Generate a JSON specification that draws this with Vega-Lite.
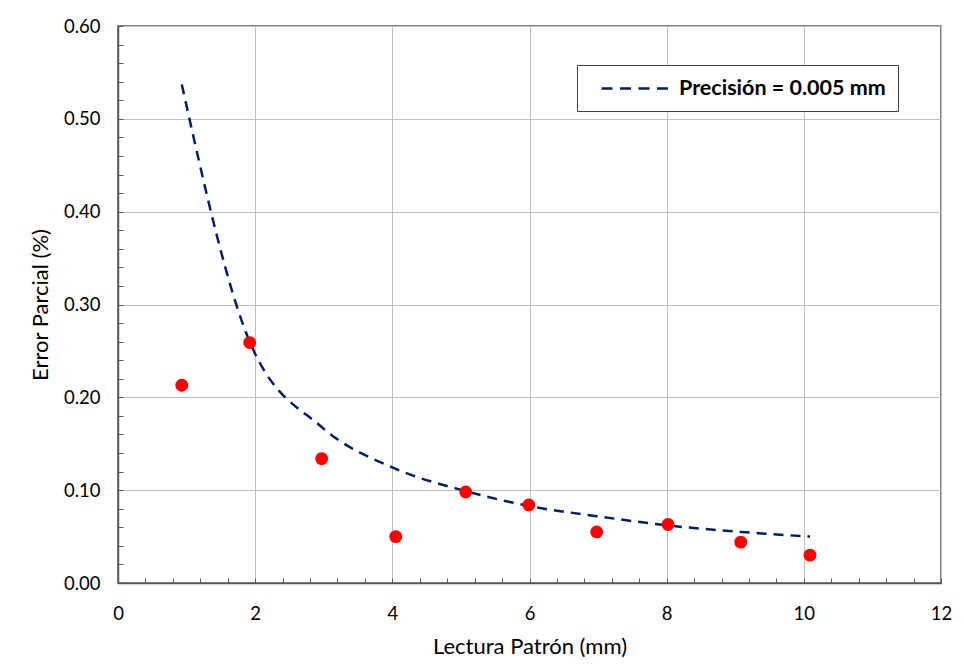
{
  "$schema": "https://vega.github.io/schema/vega-lite/v6.json",
  "width": 823,
  "height": 557,
  "autosize": "none",
  "padding": {"left": 118, "top": 26, "right": 23, "bottom": 86},
  "background": "white",
  "config": {
    "font": "Lato",
    "view": {"stroke": "#595959", "strokeWidth": 1.5},
    "axis": {
      "domainColor": "#595959",
      "domainWidth": 1.5,
      "gridColor": "#BFBFBF",
      "gridWidth": 1,
      "tickColor": "#595959",
      "tickWidth": 1,
      "labelFont": "Lato",
      "labelFontSize": 18.5,
      "labelFontWeight": "normal",
      "labelColor": "#000000",
      "titleFont": "Lato",
      "titleFontSize": 22,
      "titleFontWeight": "normal",
      "titleColor": "#000000"
    }
  },
  "datasets": {
    "medidas": [
      {"lectura": 0.93, "error": 0.213},
      {"lectura": 1.92, "error": 0.259},
      {"lectura": 2.97, "error": 0.134},
      {"lectura": 4.05, "error": 0.050},
      {"lectura": 5.07, "error": 0.098},
      {"lectura": 5.99, "error": 0.084},
      {"lectura": 6.98, "error": 0.055},
      {"lectura": 8.02, "error": 0.063},
      {"lectura": 9.08, "error": 0.044},
      {"lectura": 10.09, "error": 0.030}
    ],
    "precision": [
      {"lectura": 0.93, "error": 0.537, "serie": "Precisión = 0.005 mm"},
      {"lectura": 1.92, "error": 0.260, "serie": "Precisión = 0.005 mm"},
      {"lectura": 2.97, "error": 0.168, "serie": "Precisión = 0.005 mm"},
      {"lectura": 4.05, "error": 0.123, "serie": "Precisión = 0.005 mm"},
      {"lectura": 5.07, "error": 0.099, "serie": "Precisión = 0.005 mm"},
      {"lectura": 5.99, "error": 0.083, "serie": "Precisión = 0.005 mm"},
      {"lectura": 6.98, "error": 0.072, "serie": "Precisión = 0.005 mm"},
      {"lectura": 8.02, "error": 0.062, "serie": "Precisión = 0.005 mm"},
      {"lectura": 9.08, "error": 0.055, "serie": "Precisión = 0.005 mm"},
      {"lectura": 10.09, "error": 0.050, "serie": "Precisión = 0.005 mm"}
    ]
  },
  "encoding": {
    "x": {
      "field": "lectura",
      "type": "quantitative",
      "scale": {"domain": [0, 12], "nice": false},
      "axis": {
        "title": "Lectura Patrón (mm)",
        "values": [0, 0.4, 0.8, 1.2, 1.6, 2, 2.4, 2.8, 3.2, 3.6, 4, 4.4, 4.8, 5.2, 5.6, 6, 6.4, 6.8, 7.2, 7.6, 8, 8.4, 8.8, 9.2, 9.6, 10, 10.4, 10.8, 11.2, 11.6, 12],
        "labelExpr": "abs(datum.value/2 - round(datum.value/2)) < 0.001 ? format(datum.value, 'd') : ''",
        "gridOpacity": {"condition": {"test": "abs(datum.value/2 - round(datum.value/2)) < 0.001", "value": 1}, "value": 0},
        "tickSize": -5,
        "labelPadding": 26,
        "labelFlush": false,
        "labelOverlap": false,
        "titlePadding": 14
      }
    },
    "y": {
      "field": "error",
      "type": "quantitative",
      "scale": {"domain": [0, 0.6], "nice": false},
      "axis": {
        "title": "Error Parcial (%)",
        "values": [0, 0.02, 0.04, 0.06, 0.08, 0.1, 0.12, 0.14, 0.16, 0.18, 0.2, 0.22, 0.24, 0.26, 0.28, 0.3, 0.32, 0.34, 0.36, 0.38, 0.4, 0.42, 0.44, 0.46, 0.48, 0.5, 0.52, 0.54, 0.56, 0.58, 0.6],
        "format": ".2f",
        "labelExpr": "abs(datum.value*10 - round(datum.value*10)) < 0.001 ? datum.label : ''",
        "gridOpacity": {"condition": {"test": "abs(datum.value*10 - round(datum.value*10)) < 0.001", "value": 1}, "value": 0},
        "tickSize": -5,
        "labelPadding": 23,
        "labelFlush": false,
        "labelOverlap": false,
        "titlePadding": 11
      }
    }
  },
  "layer": [
    {
      "data": {"name": "precision"},
      "mark": {"type": "line", "interpolate": "monotone", "strokeWidth": 2.5, "strokeDash": [10, 7]},
      "encoding": {
        "color": {
          "field": "serie",
          "type": "nominal",
          "scale": {"range": ["#002060"]},
          "legend": {
            "title": null,
            "orient": "none",
            "legendX": 459,
            "legendY": 39,
            "symbolType": "M0.1,0H6.8",
            "symbolSize": 400,
            "symbolStrokeWidth": 2.5,
            "symbolDash": [11, 7.5],
            "labelFontSize": 21.5,
            "labelFontWeight": "bold",
            "labelColor": "#000000",
            "labelFont": "Lato",
            "labelOffset": 67,
            "labelLimit": 400,
            "padding": 12,
            "strokeColor": "#404040",
            "fillColor": "white"
          }
        }
      }
    },
    {
      "data": {"name": "medidas"},
      "mark": {"type": "circle", "size": 165, "color": "#FF0000", "opacity": 1}
    }
  ]
}
